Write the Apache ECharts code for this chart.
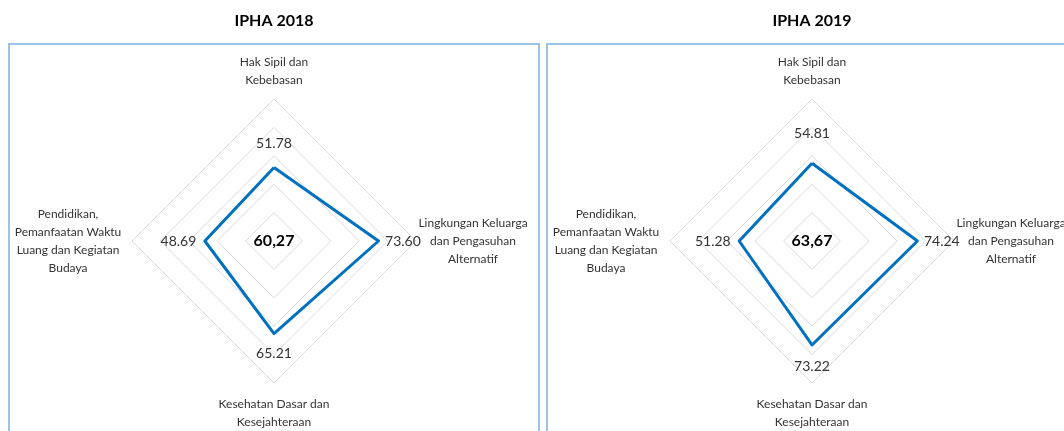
<!DOCTYPE html>
<html>
<head>
<meta charset="utf-8">
<script src="https://cdn.jsdelivr.net/npm/echarts@6/dist/echarts.min.js"></script>
<style>
  html, body { margin: 0; padding: 0; background: #fff; }
  #main { width: 1064px; height: 431px; }
</style>
</head>
<body>
<div id="main"></div>
<script>
// indicators go counter-clockwise from the top, the way echarts lays out a radar
var dimensions = [
    "Hak Sipil dan\nKebebasan",
    "Pendidikan,\nPemanfaatan Waktu\nLuang dan Kegiatan\nBudaya",
    "Kesehatan Dasar dan\nKesejahteraan",
    "Lingkungan Keluarga\ndan Pengasuhan\nAlternatif"
];
var titles = ["IPHA 2018", "IPHA 2019"];
var values2018 = [51.78, 48.69, 65.21, 73.60];
var values2019 = [54.81, 51.28, 73.22, 74.24];
var totals = ["60,27", "63,67"];
var axisMin = 0;
var axisMax = 100;

var labelSides = ["top", "left", "bottom", "right"];
var centersX = [274, 812];
var centerY = 241;
var topGaps = [16, 22];
var bottomGaps = [12, 14];
var textColor = "#333333";
var fontName = "Lato";

function nameFormatter(name) {
    var k = dimensions.indexOf(name);
    // small spacer lines push the top / bottom names a bit further out
    if (k == 0) return "{n|" + name + "}\n{s| }";
    if (k == 2) return "{b| }\n{n|" + name + "}";
    if (k == 1) return "{l|" + name + "}";
    return "{n|" + name + "}";
}

function buildRadar(i) {
    var nameStyle = { width: 114, align: "center", fontSize: 12, lineHeight: 18, color: textColor, fontFamily: fontName };
    return {
        center: [centersX[i], centerY],
        radius: 142,
        startAngle: 90,
        shape: "polygon",
        splitNumber: 5,
        nameGap: 0,
        indicator: dimensions.map(function (d) {
            return { name: d, min: axisMin, max: axisMax };
        }),
        axisName: {
            formatter: nameFormatter,
            rich: {
                n: nameStyle,
                l: echarts.util.extend({ padding: [0, 7, 0, 0] }, nameStyle),
                s: { fontSize: 1, lineHeight: 10 },
                b: { fontSize: 1, lineHeight: 12 }
            }
        },
        axisLine: { show: false },
        axisTick: { show: false },
        axisLabel: { show: false },
        splitArea: { show: false },
        splitLine: { lineStyle: { color: "#d9d9d9", width: 1 } }
    };
}

function buildSeries(i, values) {
    var gaps = { top: topGaps[i], left: 8, bottom: bottomGaps[i], right: 6 };
    var list = [{
        type: "radar",
        radarIndex: i,
        symbol: "none",
        silent: true,
        lineStyle: { color: "#0070c0", width: 3 },
        data: [{ value: values }]
    }];
    // one invisible copy per side so each vertex gets its own label position
    labelSides.forEach(function (side, k) {
        list.push({
            type: "radar",
            radarIndex: i,
            symbol: "circle",
            symbolSize: 1,
            silent: true,
            itemStyle: { color: "rgba(0,0,0,0)" },
            lineStyle: { opacity: 0 },
            label: {
                show: true,
                position: side,
                distance: gaps[side],
                color: textColor,
                fontSize: 14,
                fontFamily: fontName,
                formatter: function (p) {
                    return p.dimensionIndex === k ? Number(p.value).toFixed(2) : "";
                }
            },
            data: [{ value: values }]
        });
    });
    return list;
}

var myChart = echarts.init(document.getElementById("main"));

var option = {
    animation: false,
    backgroundColor: "#fff",
    title: titles.map(function (t, i) {
        return {
            text: t,
            left: centersX[i],
            top: 13,
            textAlign: "center",
            padding: 0,
            textStyle: { fontFamily: fontName, fontSize: 16, fontWeight: "bold", color: "#000" }
        };
    }),
    radar: [buildRadar(0), buildRadar(1)],
    series: buildSeries(0, values2018).concat(buildSeries(1, values2019)),
    graphic: [
        { type: "rect", shape: { x: 9, y: 44, width: 530, height: 420 }, style: { fill: "none", stroke: "#9dc3e6", lineWidth: 2 }, z: 0 },
        { type: "rect", shape: { x: 547, y: 44, width: 540, height: 420 }, style: { fill: "none", stroke: "#9dc3e6", lineWidth: 2 }, z: 0 },
        { type: "text", x: centersX[0], y: centerY, style: { text: totals[0], font: "bold 16px Lato", fill: "#000", align: "center", verticalAlign: "middle" } },
        { type: "text", x: centersX[1], y: centerY, style: { text: totals[1], font: "bold 16px Lato", fill: "#000", align: "center", verticalAlign: "middle" } }
    ]
};

myChart.setOption(option);
window.onresize = myChart.resize;
</script>
</body>
</html>
